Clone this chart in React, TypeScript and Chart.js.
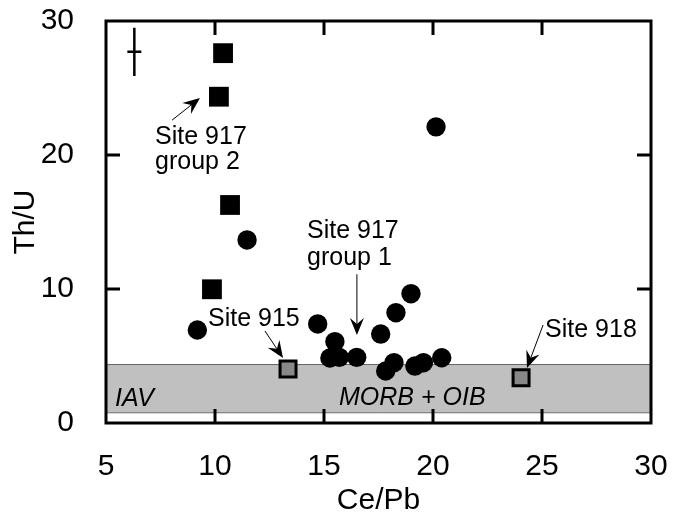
import React, { useEffect, useRef } from "react";
import { Chart, registerables } from "chart.js";
Chart.register(...registerables);

// Site 917 group 2 (black squares)
const group2Ce = [10.37, 10.18, 10.69, 9.86];
const group2Th = [27.6, 24.35, 16.27, 9.98];
// Site 917 group 1 (black circles)
const group1Ce = [20.14, 11.47, 9.19, 14.71, 15.5, 15.27, 15.7, 16.5, 17.6, 18.3, 18.99, 17.83, 18.21, 19.17, 19.56, 20.4];
const group1Th = [22.1, 13.66, 6.94, 7.39, 6.07, 4.85, 4.9, 4.9, 6.64, 8.23, 9.65, 3.88, 4.5, 4.25, 4.5, 4.87];
// Sites 915 and 918 (grey squares)
const otherCe = [13.35, 24.04];
const otherTh = [4.03, 3.38];
// MORB + OIB field (Th/U range)
const bandTh = [0.8, 4.4];
// error bar (x, y, ±x, ±y)
const errBar = [6.3, 27.7, 0.32, 1.8];
const xTicks = [5, 10, 15, 20, 25, 30];
const yTicks = [0, 10, 20, 30];

// annotations in data units
const labels = [
  { text: "Site 917", x: 7.25, y: 20.8, italic: false },
  { text: "group 2", x: 7.25, y: 18.96, italic: false },
  { text: "Site 917", x: 14.22, y: 13.8, italic: false },
  { text: "group 1", x: 14.22, y: 11.8, italic: false },
  { text: "Site 915", x: 9.68, y: 7.24, italic: false },
  { text: "Site 918", x: 25.14, y: 6.42, italic: false },
  { text: "IAV", x: 5.41, y: 1.27, italic: true },
  { text: "MORB + OIB", x: 15.69, y: 1.34, italic: true },
];
const arrows = [
  { x1: 8.03, y1: 22.6, x2: 9.31, y2: 24.25 },
  { x1: 16.51, y1: 11.1, x2: 16.51, y2: 6.57 },
  { x1: 12.29, y1: 6.87, x2: 13.12, y2: 4.85 },
  { x1: 25.05, y1: 7.31, x2: 24.31, y2: 4.1 },
];

const FONT = '"Liberation Sans", Arial, Helvetica, sans-serif';

const decorPlugin = {
  id: "decor",
  beforeDatasetsDraw(chart: any) {
    const { ctx, chartArea: a, scales } = chart;
    const ys = scales.y;
    const yTop = ys.getPixelForValue(bandTh[1]);
    const yBot = ys.getPixelForValue(bandTh[0]);
    ctx.save();
    ctx.fillStyle = "#c0c0c0";
    ctx.fillRect(a.left, yTop, a.right - a.left, yBot - yTop);
    ctx.strokeStyle = "#666666";
    ctx.lineWidth = 1;
    ctx.beginPath();
    ctx.moveTo(a.left, yTop + 0.5); ctx.lineTo(a.right, yTop + 0.5);
    ctx.moveTo(a.left, yBot + 0.5); ctx.lineTo(a.right, yBot + 0.5);
    ctx.stroke();
    ctx.restore();
  },
  afterDatasetsDraw(chart: any) {
    const { ctx, chartArea: a, scales } = chart;
    const xs = scales.x, ys = scales.y;
    ctx.save();
    // frame
    ctx.strokeStyle = "#000";
    ctx.lineWidth = 3;
    ctx.strokeRect(a.left, a.top, a.right - a.left, a.bottom - a.top);
    // inner ticks
    const tl = 14;
    ctx.beginPath();
    xTicks.slice(1, -1).forEach((v) => {
      const px = Math.round(xs.getPixelForValue(v));
      ctx.moveTo(px, a.bottom); ctx.lineTo(px, a.bottom - tl);
      ctx.moveTo(px, a.top); ctx.lineTo(px, a.top + tl);
    });
    yTicks.slice(1, -1).forEach((v) => {
      const py = Math.round(ys.getPixelForValue(v));
      ctx.moveTo(a.left, py); ctx.lineTo(a.left + tl, py);
      ctx.moveTo(a.right, py); ctx.lineTo(a.right - tl, py);
    });
    ctx.stroke();
    // error bar
    const ex = xs.getPixelForValue(errBar[0]);
    const ey = ys.getPixelForValue(errBar[1]);
    ctx.lineWidth = 2.5;
    ctx.beginPath();
    ctx.moveTo(ex, ys.getPixelForValue(errBar[1] + errBar[3]));
    ctx.lineTo(ex, ys.getPixelForValue(errBar[1] - errBar[3]));
    ctx.moveTo(xs.getPixelForValue(errBar[0] - errBar[2]), ey);
    ctx.lineTo(xs.getPixelForValue(errBar[0] + errBar[2]), ey);
    ctx.stroke();
    // arrows
    arrows.forEach((ar) => {
      const x1 = xs.getPixelForValue(ar.x1), y1 = ys.getPixelForValue(ar.y1);
      const x2 = xs.getPixelForValue(ar.x2), y2 = ys.getPixelForValue(ar.y2);
      const ang = Math.atan2(y2 - y1, x2 - x1);
      const hl = 17, hw = 7, back = 11;
      const cx = Math.cos(ang), sy = Math.sin(ang);
      const bx = x2 - cx * back, by = y2 - sy * back;
      ctx.lineWidth = 1;
      ctx.beginPath();
      ctx.moveTo(x1, y1); ctx.lineTo(bx, by);
      ctx.stroke();
      const px = -sy, py = cx;
      ctx.fillStyle = "#000";
      ctx.beginPath();
      ctx.moveTo(x2, y2);
      ctx.lineTo(x2 - cx * hl + px * hw, y2 - sy * hl + py * hw);
      ctx.lineTo(bx, by);
      ctx.lineTo(x2 - cx * hl - px * hw, y2 - sy * hl - py * hw);
      ctx.closePath();
      ctx.fill();
    });
    // labels
    ctx.fillStyle = "#000";
    ctx.textBaseline = "alphabetic";
    ctx.textAlign = "left";
    labels.forEach((l) => {
      ctx.font = (l.italic ? "italic " : "") + "25px " + FONT;
      ctx.fillText(l.text, xs.getPixelForValue(l.x), ys.getPixelForValue(l.y));
    });
    ctx.restore();
  },
};

const noPad = (s: any) => {
  s.paddingTop = 0; s.paddingBottom = 0; s.paddingLeft = 0; s.paddingRight = 0;
};

export default function App() {
  const ref = useRef<HTMLCanvasElement>(null);
  useEffect(() => {
    if (!ref.current) return;
    const pts = (xa: number[], ya: number[]) => xa.map((x, i) => ({ x, y: ya[i] }));
    const chart = new Chart(ref.current, {
      type: "scatter",
      data: {
        datasets: [
          {
            label: "Site 917 group 1",
            data: pts(group1Ce, group1Th),
            pointStyle: "circle",
            pointRadius: 9.7,
            backgroundColor: "#000",
            borderColor: "#000",
            borderWidth: 0,
          },
          {
            label: "Site 917 group 2",
            data: pts(group2Ce, group2Th),
            pointStyle: "rect",
            pointRadius: 14,
            backgroundColor: "#000",
            borderColor: "#000",
            borderWidth: 0,
          },
          {
            label: "Sites 915, 918",
            data: pts(otherCe, otherTh),
            pointStyle: "rect",
            pointRadius: 11.3,
            backgroundColor: "#888888",
            borderColor: "#000",
            borderWidth: 3,
          },
        ],
      },
      plugins: [decorPlugin],
      options: {
        animation: false,
        responsive: false,
        devicePixelRatio: 1,
        layout: { padding: { left: 0, right: 29, top: 21, bottom: 0 } },
        plugins: { legend: { display: false }, tooltip: { enabled: false } },
        scales: {
          x: {
            type: "linear",
            min: 5,
            max: 30,
            afterBuildTicks: (s: any) => { s.ticks = xTicks.map((v) => ({ value: v })); },
            afterFit: (s: any) => { s.height = 96; noPad(s); },
            grid: { display: false },
            border: { display: false },
            ticks: { color: "#000", font: { family: FONT, size: 30 }, padding: 18 },
            title: { display: true, text: "Ce/Pb", color: "#000", font: { family: FONT, size: 30 }, padding: { top: 0, bottom: 0 } },
          },
          y: {
            type: "linear",
            min: 0,
            max: 30,
            afterBuildTicks: (s: any) => { s.ticks = yTicks.map((v) => ({ value: v })); },
            afterFit: (s: any) => { s.width = 106; noPad(s); },
            grid: { display: false },
            border: { display: false },
            ticks: { color: "#000", font: { family: FONT, size: 30 }, padding: 24 },
            title: { display: true, text: "Th/U", color: "#000", font: { family: FONT, size: 30 }, padding: { top: 8, bottom: 0 } },
          },
        },
      },
    } as any);
    return () => chart.destroy();
  }, []);
  return (
    <div style={{ position: "absolute", left: 0, top: 0, width: 680, height: 519, background: "#fff" }}>
      <canvas ref={ref} width={680} height={519} style={{ width: 680, height: 519, display: "block" }} />
    </div>
  );
}
